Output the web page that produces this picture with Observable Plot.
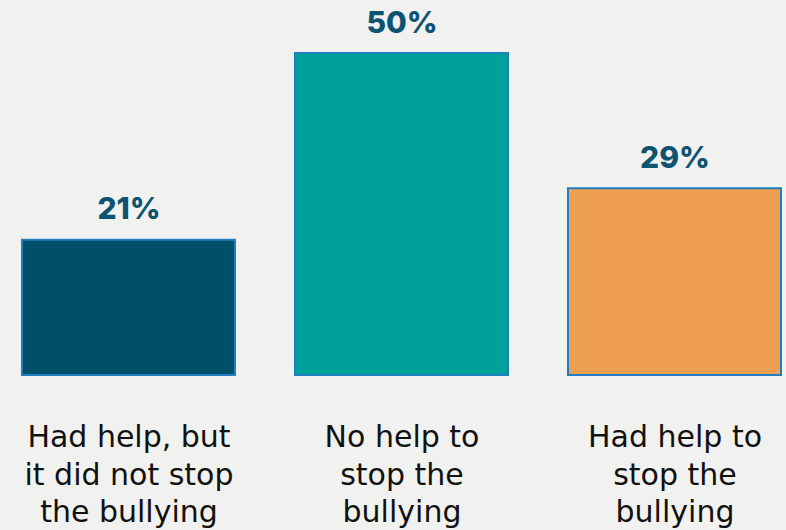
<!DOCTYPE html>
<html>
<head>
<meta charset="utf-8">
<script src="https://cdn.jsdelivr.net/npm/d3@7"></script>
<script src="https://cdn.jsdelivr.net/npm/@observablehq/plot@0.6"></script>
<style>
  html, body { margin: 0; padding: 0; background: #f1f1ef; }
  #chart svg { display: block; }
</style>
</head>
<body>
<div id="chart"></div>
<script>
const categories = ["Had help, but\nit did not stop\nthe bullying", "No help to\nstop the\nbullying", "Had help to\nstop the\nbullying"];
const values = [21, 50, 29];
const valueLabels = ["21%", "50%", "29%"];
const colors = ["#004f6a", "#00a19a", "#ee9f52"];

const data = categories.map((c, i) => ({cat: c, value: values[i], label: valueLabels[i], color: colors[i]}));

const chart = Plot.plot({
  width: 786,
  height: 530,
  marginTop: 53,
  marginBottom: 155,
  marginLeft: 22,
  marginRight: 5,
  style: {background: "#f1f1ef"},
  x: {domain: categories, paddingInner: 60 / 273, paddingOuter: 0, axis: null},
  y: {domain: [0, 50], axis: null},
  marks: [
    Plot.barY(data, {x: "cat", y: "value", fill: "color", stroke: "#1f7fbf", strokeWidth: 2}),
    Plot.text(data, {x: "cat", y: "value", text: "label", lineAnchor: "bottom", dy: -21,
      fontSize: 30, fontWeight: 800, fill: "#0e5472", fontFamily: "Inter, sans-serif"}),
    Plot.text(data, {x: "cat", y: 0, text: "cat", lineAnchor: "middle", dy: 97, lineHeight: 1.25,
      fontSize: 30, fill: "#111", fontFamily: "'DejaVu Sans', sans-serif"})
  ]
});
document.getElementById("chart").appendChild(chart);
</script>
</body>
</html>
